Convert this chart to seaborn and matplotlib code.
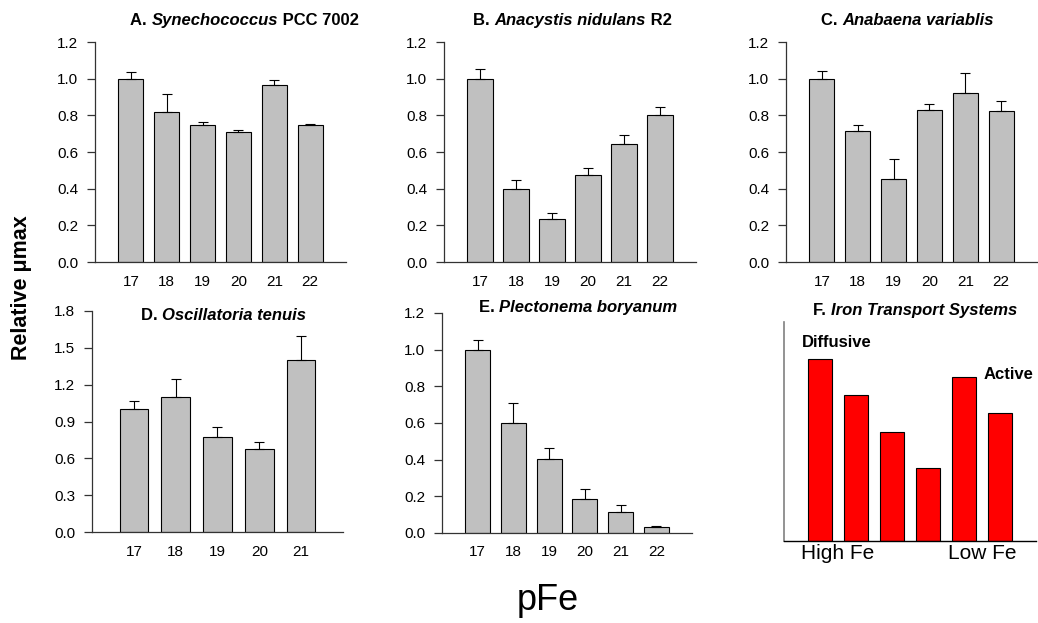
import matplotlib
matplotlib.use("Agg")
import matplotlib.pyplot as plt
import seaborn as sns
import numpy as np
import pandas as pd

# ---------------- data ----------------
pfe6 = ["17", "18", "19", "20", "21", "22"]
pfe5 = ["17", "18", "19", "20", "21"]

syn_vals = [1.00, 0.82, 0.745, 0.707, 0.967, 0.745]
syn_err = [0.036, 0.095, 0.016, 0.013, 0.024, 0.006]

anac_vals = [1.00, 0.40, 0.232, 0.473, 0.644, 0.80]
anac_err = [0.051, 0.049, 0.038, 0.042, 0.051, 0.044]

anab_vals = [1.00, 0.715, 0.455, 0.827, 0.92, 0.824]
anab_err = [0.040, 0.032, 0.109, 0.033, 0.113, 0.056]

osc_vals = [1.00, 1.10, 0.77, 0.68, 1.40]
osc_err = [0.065, 0.147, 0.085, 0.049, 0.20]

ple_vals = [1.00, 0.60, 0.405, 0.185, 0.115, 0.035]
ple_err = [0.051, 0.109, 0.057, 0.057, 0.036, 0.004]

iron_cats = ["1", "2", "3", "4", "5", "6"]
iron_vals = [5.0, 4.0, 3.0, 2.0, 4.5, 3.5]
iron_ticks = ["High Fe", "Low Fe"]

ticks_12 = [0.0, 0.2, 0.4, 0.6, 0.8, 1.0, 1.2]
ticks_18 = [0.0, 0.3, 0.6, 0.9, 1.2, 1.5, 1.8]

# ---------------- style ----------------
sns.set_style("ticks")
plt.rcParams["font.family"] = ["Liberation Sans", "DejaVu Sans"]
plt.rcParams["text.color"] = "black"
plt.rcParams["xtick.labelcolor"] = "black"
plt.rcParams["ytick.labelcolor"] = "black"

W, H = 1038, 623
fig = plt.figure(figsize=(W / 100, H / 100), dpi=100)


def add_ax(l, r, t, b):
    return fig.add_axes([l / W, 1 - b / H, (r - l) / W, (b - t) / H])


SPINE = "#333333"
TICK_FS = 11


def panel(ax, cats, vals, errs, yticks, width=0.7):
    df = pd.DataFrame({"pFe": cats, "v": vals})
    sns.barplot(data=df, x="pFe", y="v", color="#C0C0C0", edgecolor="black",
                linewidth=0.8, width=width, saturation=1, ax=ax, zorder=2)
    x = np.arange(len(cats))
    ax.errorbar(x, vals, yerr=[np.zeros(len(vals)), errs], fmt="none",
                ecolor="black", elinewidth=0.8, capsize=3.5, capthick=0.8, zorder=3)
    ax.set_xlim(-1, len(cats))
    ax.set_ylim(yticks[0], yticks[-1])
    ax.set_yticks(yticks, [f"{t:.1f}" for t in yticks])
    ax.set_xlabel("")
    ax.set_ylabel("")
    for s in ["top", "right"]:
        ax.spines[s].set_visible(False)
    for s in ["left", "bottom"]:
        ax.spines[s].set_color(SPINE)
        ax.spines[s].set_linewidth(0.9)
    ax.tick_params(axis="y", direction="out", length=6, width=0.9, color=SPINE,
                   labelsize=TICK_FS, pad=6, labelcolor="black")
    ax.tick_params(axis="x", length=0, labelsize=TICK_FS, pad=9, labelcolor="black")
    ax.set_facecolor("white")


axA = add_ax(95, 346, 42, 262)
panel(axA, pfe6, syn_vals, syn_err, ticks_12)
axB = add_ax(444, 696, 42, 262)
panel(axB, pfe6, anac_vals, anac_err, ticks_12)
axC = add_ax(786, 1037, 42, 262)
panel(axC, pfe6, anab_vals, anab_err, ticks_12)
axD = add_ax(92, 343, 311, 532)
panel(axD, pfe5, osc_vals, osc_err, ticks_18, width=0.68)
axE = add_ax(442, 692, 313, 533)
panel(axE, pfe6, ple_vals, ple_err, ticks_12)

# Panel F
axF = add_ax(784, 1036, 322, 541)
dfF = pd.DataFrame({"c": iron_cats, "v": iron_vals})
sns.barplot(data=dfF, x="c", y="v", color="#FF0000", edgecolor="black",
            linewidth=0.8, width=0.66, saturation=1, ax=axF)
axF.set_xlim(-1, 6)
axF.set_ylim(0, 6)
axF.set_yticks([])
axF.set_xticks([0.5, 4.5], iron_ticks)
axF.tick_params(axis="x", length=0, labelsize=15, pad=2, labelcolor="black")
axF.set_xlabel("")
axF.set_ylabel("")
for s in ["top", "right"]:
    axF.spines[s].set_visible(False)
axF.spines["left"].set_color("#808080")
axF.spines["left"].set_linewidth(1.2)
axF.spines["bottom"].set_color("black")
axF.spines["bottom"].set_linewidth(1.0)

fig.text(802 / W, 1 - 347 / H, "Diffusive", fontsize=12, fontweight="bold",
         ha="left", va="baseline")
fig.text(984 / W, 1 - 379 / H, "Active", fontsize=12, fontweight="bold",
         ha="left", va="baseline")

# ---------------- titles (mixed bold / bold-italic) ----------------
fig.canvas.draw()
renderer = fig.canvas.get_renderer()


def rich_title(xc, ybase, parts, size=12):
    texts = []
    for s, style in parts:
        t = fig.text(0, 1 - ybase / H, s, fontsize=size, fontweight="bold",
                     fontstyle=style, ha="left", va="baseline")
        texts.append(t)
    widths = [t.get_window_extent(renderer).width for t in texts]
    x = xc - sum(widths) / 2
    for t, w in zip(texts, widths):
        t.set_x(x / W)
        x += w


N, I = "normal", "italic"
rich_title(244.5, 25, [("A.\u00a0", N), ("Synechococcus", I), ("\u00a0PCC 7002", N)])
rich_title(572.5, 25, [("B.\u00a0", N), ("Anacystis nidulans", I), ("\u00a0R2", N)])
rich_title(907.5, 25, [("C.\u00a0", N), ("Anabaena variablis", I)])
rich_title(223.5, 320, [("D.\u00a0", N), ("Oscillatoria tenuis", I)])
rich_title(578, 312, [("E.\u00a0", N), ("Plectonema boryanum", I)])
rich_title(915, 315, [("F.\u00a0", N), ("Iron Transport Systems", I)])

fig.text(22 / W, 1 - 288 / H, "Relative μmax", rotation=90, fontsize=15.5,
         fontweight="bold", ha="center", va="center")
fig.text(548 / W, 1 - 600 / H, "pFe", fontsize=26, ha="center", va="center")

fig.savefig("out.png", dpi=100, facecolor="white")
